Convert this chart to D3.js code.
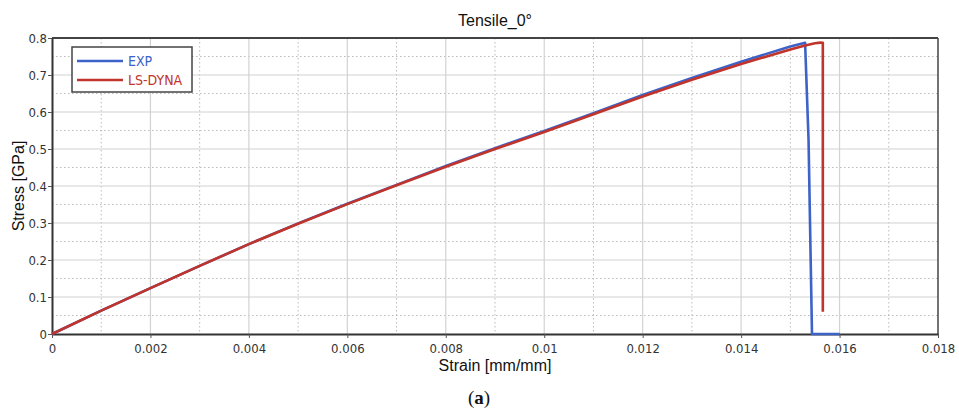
<!DOCTYPE html>
<html><head><meta charset="utf-8">
<script src="https://cdn.jsdelivr.net/npm/d3@7"></script>
<style>body{margin:0;background:#fff}svg{display:block}</style>
</head><body>
<svg id="chart" width="959" height="413"></svg>
<script>
const title = "Tensile_0°";
const xLabel = "Strain [mm/mm]";
const yLabel = "Stress [GPa]";
const seriesNames = ["EXP", "LS-DYNA"];
const xTicks = [0,0.002,0.004,0.006,0.008,0.01,0.012,0.014,0.016,0.018];
const yTicks = [0,0.1,0.2,0.3,0.4,0.5,0.6,0.7,0.8];
const expStrain = [0,0.001,0.002,0.003,0.004,0.005,0.006,0.007,0.008,0.009,0.010,0.011,0.012,0.013,0.014,0.015,0.0153,0.01537,0.01544,0.016];
const expStress = [0,0.063,0.124,0.184,0.243,0.299,0.352,0.403,0.454,0.502,0.549,0.597,0.646,0.692,0.736,0.777,0.787,0.525,0,0];
const dynaStrain = [0,0.001,0.002,0.003,0.004,0.005,0.006,0.007,0.008,0.009,0.010,0.011,0.012,0.013,0.014,0.015,0.0153,0.0155,0.01561,0.01566,0.01566];
const dynaStress = [0,0.063,0.124,0.184,0.243,0.298,0.351,0.402,0.452,0.500,0.546,0.594,0.642,0.687,0.730,0.769,0.780,0.786,0.7875,0.787,0.06];

const svg = d3.select("#chart");
const L = 52, R = 938, T = 38, B = 334;
const x = d3.scaleLinear().domain([0,0.018]).range([L,R]);
const y = d3.scaleLinear().domain([0,0.8]).range([B,T]);
const blue = "#3d62c8", red = "#c0342b";
const tickFont = "'Liberation Sans Narrow','Arial Narrow','DejaVu Sans Condensed',Arial,sans-serif";

// minor grid (dotted)
const xMinor = d3.range(0.001, 0.018, 0.002);
const yMinor = d3.range(0.05, 0.8, 0.1);
svg.append("g").selectAll("line").data(xMinor).join("line")
  .attr("x1", d=>x(d)).attr("x2", d=>x(d)).attr("y1", T).attr("y2", B)
  .attr("stroke", "#bbb").attr("stroke-width", 1).attr("stroke-dasharray", "1.5,2.5");
svg.append("g").selectAll("line").data(yMinor).join("line")
  .attr("x1", L).attr("x2", R).attr("y1", d=>y(d)).attr("y2", d=>y(d))
  .attr("stroke", "#bbb").attr("stroke-width", 1).attr("stroke-dasharray", "1.5,2.5");
// major grid
svg.append("g").selectAll("line").data(xTicks.slice(1,-1)).join("line")
  .attr("x1", d=>x(d)).attr("x2", d=>x(d)).attr("y1", T).attr("y2", B)
  .attr("stroke", "#d2d2d2").attr("stroke-width", 1.2);
svg.append("g").selectAll("line").data(yTicks.slice(1,-1)).join("line")
  .attr("x1", L).attr("x2", R).attr("y1", d=>y(d)).attr("y2", d=>y(d))
  .attr("stroke", "#d2d2d2").attr("stroke-width", 1.2);

// frame
svg.append("line").attr("x1", L).attr("x2", R).attr("y1", T).attr("y2", T).attr("stroke", "#444").attr("stroke-width", 2);
svg.append("line").attr("x1", R).attr("x2", R).attr("y1", T).attr("y2", B).attr("stroke", "#444").attr("stroke-width", 1.5);

// axes
const xAxis = svg.append("g").attr("transform", `translate(0,${B})`)
  .call(d3.axisBottom(x).tickValues(xTicks).tickFormat(d=>d===0?"0":d3.format("~g")(d)).tickSize(4).tickSizeOuter(0));
const yAxis = svg.append("g").attr("transform", `translate(${L},0)`)
  .call(d3.axisLeft(y).tickValues(yTicks).tickFormat(d=>d===0?"0":d3.format("~g")(d)).tickSize(4).tickSizeOuter(0));
[xAxis, yAxis].forEach(g=>{
  g.select(".domain").attr("stroke", "#333").attr("stroke-width", 2);
  g.selectAll(".tick line").attr("stroke", "#555");
  g.selectAll(".tick text").attr("font-family", tickFont).attr("font-size", 13).attr("fill", "#333");
});
xAxis.selectAll(".tick text").attr("dy", "0.9em");
yAxis.selectAll(".tick text").attr("x", -5);

// lines
const line = d3.line().x(d=>x(d[0])).y(d=>y(d[1]));
const expData = expStrain.map((s,i)=>[s, expStress[i]]);
const dynaData = dynaStrain.map((s,i)=>[s, dynaStress[i]]);
svg.append("path").datum(expData).attr("d", line).attr("fill","none").attr("stroke", blue).attr("stroke-width", 2.6).attr("stroke-linejoin","round");
svg.append("path").datum(dynaData).attr("d", line).attr("fill","none").attr("stroke", red).attr("stroke-width", 2.6).attr("stroke-linejoin","round");

// legend
const lg = svg.append("g");
lg.append("rect").attr("x", 72).attr("y", 47).attr("width", 120).attr("height", 45)
  .attr("fill", "#fff").attr("stroke", "#444").attr("stroke-width", 1.5);
[[blue, seriesNames[0], 61],[red, seriesNames[1], 80]].forEach(([c,t,yy])=>{
  lg.append("line").attr("x1", 77).attr("x2", 123).attr("y1", yy).attr("y2", yy).attr("stroke", c).attr("stroke-width", 2.5);
  lg.append("text").attr("x", 128).attr("y", yy+5).attr("fill", c).attr("font-family", tickFont).attr("font-size", 14).text(t);
});

// titles
svg.append("text").attr("x", 495).attr("y", 26).attr("text-anchor","middle")
  .attr("font-family","Liberation Sans, Arial, sans-serif").attr("font-size", 16).attr("fill","#111").text(title);
svg.append("text").attr("x", 495).attr("y", 371).attr("text-anchor","middle")
  .attr("font-family","Liberation Sans, Arial, sans-serif").attr("font-size", 16).attr("fill","#111").text(xLabel);
svg.append("text").attr("transform", `translate(24,${(T+B)/2}) rotate(-90)`).attr("text-anchor","middle")
  .attr("font-family","Liberation Sans, Arial, sans-serif").attr("font-size", 16).attr("fill","#111").text(yLabel);
const cap = svg.append("text").attr("x", 479).attr("y", 404).attr("text-anchor","middle")
  .attr("font-family","'Liberation Serif','DejaVu Serif',serif").attr("font-size", 19).attr("fill","#111");
cap.append("tspan").text("(");
cap.append("tspan").attr("font-weight","bold").text("a");
cap.append("tspan").text(")");
</script>
</body></html>
